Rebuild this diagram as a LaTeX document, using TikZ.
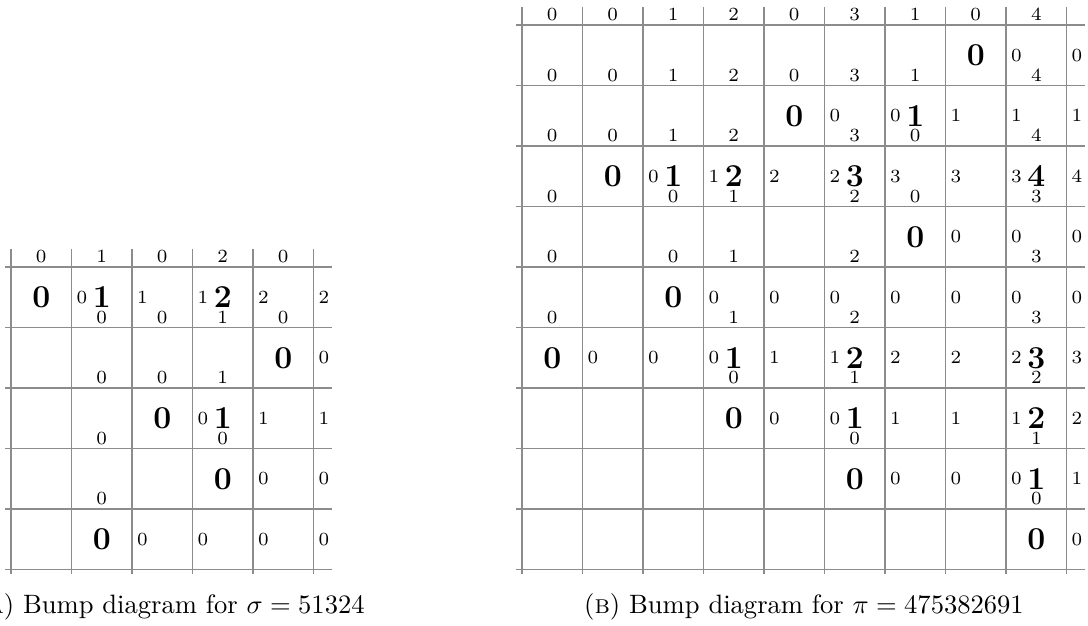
\documentclass[tikz,border=0pt]{standalone}
\begin{document}
\begin{tikzpicture}[x=0.8cm,y=-0.8cm,
  gridline/.style={draw=black!45,line width=0.45pt},
  bignum/.style={font=\large\bfseries,inner sep=0pt},
  smallnum/.style={font=\scriptsize,inner sep=0pt},
  captext/.style={font=\normalsize,inner sep=0pt,anchor=base}]
\useasboundingbox (0,0) rectangle (17.983,10.331);
% ---------- left diagram (sigma = 51324) ----------
\def\gx{0.182}\def\gy{4.413}
\foreach \i in {0,...,5} \draw[gridline] ({\gx+\i},{\gy-0.3}) -- ({\gx+\i},{\gy+5.08});
\foreach \j in {0,...,5} \draw[gridline] ({\gx-0.1},{\gy+\j}) -- ({\gx+5.3},{\gy+\j});
\foreach \c/\r/\t in {1/1/0,2/1/1,4/1/2,5/2/0,3/3/0,4/3/1,4/4/0,2/5/0}
  \node[bignum] (Lbig\c-\r) at ({\gx+\c-0.5},{\gy+\r-0.5}) {\t};
\foreach \c/\r/\t in {2/1/0,3/1/1,4/1/1,5/1/2,6/1/2,6/2/0,4/3/0,5/3/1,6/3/1,5/4/0,6/4/0,3/5/0,4/5/0,5/5/0,6/5/0}
  \node[smallnum] (Lleft\c-\r) at ({\gx+\c-0.83},{\gy+\r-0.5}) {\t};
\foreach \c/\r/\t in {1/0/0,2/0/1,3/0/0,4/0/2,5/0/0,2/1/0,3/1/0,4/1/1,5/1/0,2/2/0,3/2/0,4/2/1,2/3/0,4/3/0,2/4/0}
  \node[smallnum] (Lbot\c-\r) at ({\gx+\c-0.5},{\gy+\r-0.17}) {\t};
\node[captext] (capA) at (2.826,10.132) {(\textsc{a}) Bump diagram for $\sigma = 51324$};
% ---------- right diagram (pi = 475382691) ----------
\def\hx{8.628}\def\hy{0.413}
\foreach \i in {0,...,9} \draw[gridline] ({\hx+\i},{\hy-0.3}) -- ({\hx+\i},{\hy+9.08});
\foreach \j in {0,...,9} \draw[gridline] ({\hx-0.1},{\hy+\j}) -- ({\hx+9.3},{\hy+\j});
\foreach \c/\r/\t in {8/1/0,5/2/0,7/2/1,2/3/0,3/3/1,4/3/2,6/3/3,9/3/4,7/4/0,3/5/0,1/6/0,4/6/1,6/6/2,9/6/3,4/7/0,6/7/1,9/7/2,6/8/0,9/8/1,9/9/0}
  \node[bignum] (Rbig\c-\r) at ({\hx+\c-0.5},{\hy+\r-0.5}) {\t};
\foreach \c/\r/\t in {9/1/0,10/1/0,
  6/2/0,7/2/0,8/2/1,9/2/1,10/2/1,
  3/3/0,4/3/1,5/3/2,6/3/2,7/3/3,8/3/3,9/3/3,10/3/4,
  8/4/0,9/4/0,10/4/0,
  4/5/0,5/5/0,6/5/0,7/5/0,8/5/0,9/5/0,10/5/0,
  2/6/0,3/6/0,4/6/0,5/6/1,6/6/1,7/6/2,8/6/2,9/6/2,10/6/3,
  5/7/0,6/7/0,7/7/1,8/7/1,9/7/1,10/7/2,
  7/8/0,8/8/0,9/8/0,10/8/1,
  10/9/0}
  \node[smallnum] (Rleft\c-\r) at ({\hx+\c-0.83},{\hy+\r-0.5}) {\t};
\foreach \c/\r/\t in {1/0/0,2/0/0,3/0/1,4/0/2,5/0/0,6/0/3,7/0/1,8/0/0,9/0/4,
  1/1/0,2/1/0,3/1/1,4/1/2,5/1/0,6/1/3,7/1/1,9/1/4,
  1/2/0,2/2/0,3/2/1,4/2/2,6/2/3,7/2/0,9/2/4,
  1/3/0,3/3/0,4/3/1,6/3/2,7/3/0,9/3/3,
  1/4/0,3/4/0,4/4/1,6/4/2,9/4/3,
  1/5/0,4/5/1,6/5/2,9/5/3,
  4/6/0,6/6/1,9/6/2,
  6/7/0,9/7/1,
  9/8/0}
  \node[smallnum] (Rbot\c-\r) at ({\hx+\c-0.5},{\hy+\r-0.17}) {\t};
\node[captext] (capB) at (13.289,10.132) {(\textsc{b}) Bump diagram for $\pi = 475382691$};
\end{tikzpicture}
\end{document}
